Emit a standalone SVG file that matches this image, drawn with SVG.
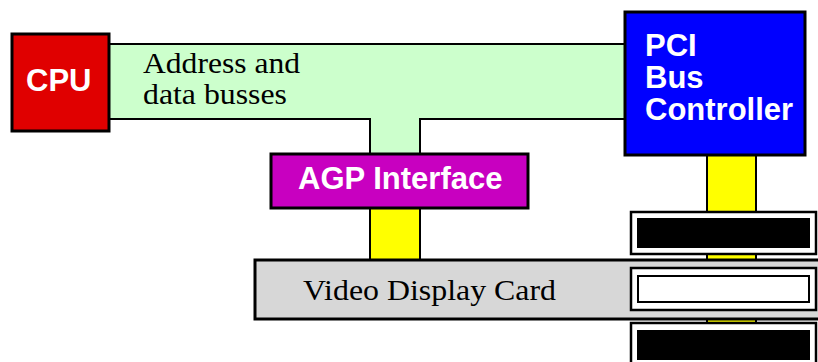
<svg xmlns="http://www.w3.org/2000/svg" width="818" height="362" viewBox="0 0 818 362">
<style>
.box{stroke:#000;stroke-width:3}
.lbl{font-family:"Liberation Sans",Arial,sans-serif;font-weight:bold;fill:#fff;font-size:31px}
.ser{font-family:"Liberation Serif","Times New Roman",serif;fill:#000;font-size:29px}
.stem{fill:#ffff00;stroke:#000;stroke-width:2}
.slotout{fill:#fff;stroke:#000;stroke-width:2.5}
.slotin{stroke:#000;stroke-width:2}
</style>
<rect width="818" height="362" fill="#fff"/>
<g id="connectors">
<path id="bus" d="M108,44 H626 V119 H420 V154 H370 V119 H108 Z" fill="#ccffcc" stroke="#000" stroke-width="2"/>
<rect class="stem" x="370" y="207" width="50" height="54"/>
<rect class="stem" x="707" y="155" width="49" height="192"/>
</g>
<g id="cpu">
<rect class="box" x="12" y="34" width="97" height="97" fill="#e00000"/>
<text class="lbl" x="26" y="91">CPU</text>
</g>
<text class="ser" x="143" y="73" textLength="157" lengthAdjust="spacingAndGlyphs">Address and</text>
<text class="ser" x="143" y="104" textLength="144" lengthAdjust="spacingAndGlyphs">data busses</text>
<g id="pci">
<rect class="box" x="625" y="12" width="180" height="143" fill="#0000ff"/>
<text class="lbl" x="645" y="56">PCI</text>
<text class="lbl" x="645" y="88">Bus</text>
<text class="lbl" x="645" y="120">Controller</text>
</g>
<g id="agp">
<rect class="box" x="271" y="154" width="257" height="54" fill="#c800c0"/>
<text class="lbl" x="298" y="189">AGP Interface</text>
</g>
<g id="video">
<rect class="box" x="255" y="260" width="580" height="59" fill="#d7d7d7"/>
<text class="ser" x="303" y="300" font-size="31" textLength="253" lengthAdjust="spacingAndGlyphs">Video Display Card</text>
</g>
<g id="slot1">
<rect class="slotout" x="631" y="212" width="185" height="42"/>
<rect class="slotin" x="638" y="219" width="171" height="28" fill="#000"/>
</g>
<g id="slot2">
<rect class="slotout" x="631" y="268" width="185" height="42"/>
<rect class="slotin" x="638" y="276" width="171" height="26" fill="#fff"/>
</g>
<g id="slot3">
<rect class="slotout" x="631" y="323" width="185" height="50"/>
<rect class="slotin" x="638" y="331" width="171" height="28" fill="#000"/>
</g>
</svg>
